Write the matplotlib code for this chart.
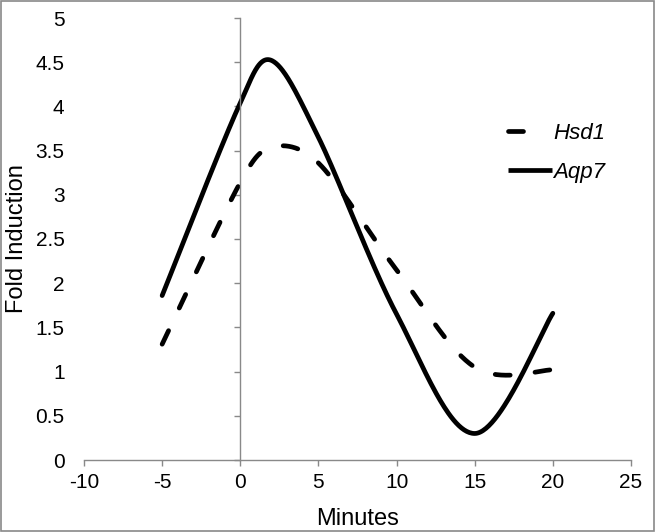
import numpy as np
import matplotlib
matplotlib.use("Agg")
import matplotlib.pyplot as plt
from matplotlib.lines import Line2D
from matplotlib.patches import Rectangle

# data
minutes = [-5, 0, 2, 5, 10, 15, 20]
hsd1 = [1.31, 3.14, 3.54, 3.36, 2.15, 1.05, 1.02]
aqp7 = [1.86, 4.04, 4.52, 3.65, 1.65, 0.30, 1.66]

x_ticks = [-10, -5, 0, 5, 10, 15, 20, 25]
y_ticks = [0, 0.5, 1, 1.5, 2, 2.5, 3, 3.5, 4, 4.5, 5]

AXIS_GREY = '#898989'
plt.rcParams['font.family'] = ['Liberation Sans', 'DejaVu Sans']
plt.rcParams['lines.scale_dashes'] = False


def smooth_line(ax, xs, ys, n=60):
    """Excel style smoothed line (Bezier segments), worked out in screen space."""
    pts = ax.transData.transform(np.column_stack([xs, ys]))
    k = len(pts)
    out = [pts[0]]
    for i in range(k - 1):
        p0 = pts[max(i - 1, 0)]
        p1 = pts[i]
        p2 = pts[i + 1]
        p3 = pts[min(i + 2, k - 1)]
        d12 = np.hypot(*(p2 - p1))
        d02 = np.hypot(*(p2 - p0))
        d13 = np.hypot(*(p3 - p1))
        f0 = 1 / 6 if d02 == 0 else min(1 / 6, d12 / 2 / d02)
        f1 = 1 / 6 if d13 == 0 else min(1 / 6, d12 / 2 / d13)
        c1 = p1 + (p2 - p0) * f0
        c2 = p2 - (p3 - p1) * f1
        t = np.linspace(0, 1, n)[1:, None]
        seg = ((1 - t) ** 3) * p1 + 3 * ((1 - t) ** 2) * t * c1 \
            + 3 * (1 - t) * t ** 2 * c2 + t ** 3 * p2
        out.extend(seg)
    out = ax.transData.inverted().transform(np.array(out))
    return out[:, 0], out[:, 1]


fig = plt.figure(figsize=(6.55, 5.32), dpi=100)
ax = fig.add_axes([84 / 655, 72 / 532, 547 / 655, 442 / 532])
ax.set_xlim(-10, 25)
ax.set_ylim(0, 5)

sx, sy = smooth_line(ax, minutes, hsd1)
ax.plot(sx, sy, color='black', lw=3.4, dashes=(10.8, 18),
        dash_capstyle='round', solid_capstyle='round')
sx, sy = smooth_line(ax, minutes, aqp7)
ax.plot(sx, sy, color='black', lw=3.4, solid_capstyle='round')

# spines: vertical axis crosses at x = 0
for side in ['top', 'right']:
    ax.spines[side].set_visible(False)
ax.spines['left'].set_position(('data', 0))
ax.spines['left'].set_color(AXIS_GREY)
ax.spines['bottom'].set_color(AXIS_GREY)
ax.spines['left'].set_linewidth(1.0)
ax.spines['bottom'].set_linewidth(1.0)

ax.set_xticks(x_ticks)
ax.set_xticklabels([str(v) for v in x_ticks])
ax.set_yticks(y_ticks)
ax.tick_params(axis='x', direction='out', length=4, width=1, color=AXIS_GREY,
               labelsize=15, pad=5)
ax.tick_params(axis='y', direction='out', length=4, width=1, color=AXIS_GREY,
               labelleft=False)

# y tick labels stay at the left edge of the plot area
sec = ax.secondary_yaxis('left')
sec.set_yticks(y_ticks)
sec.set_yticklabels([f'{v:g}' for v in y_ticks])
sec.spines['left'].set_visible(False)
sec.tick_params(length=0, labelsize=15, pad=14)
sec.set_ylabel('Fold Induction', fontsize=17, labelpad=5)

ax.set_xlabel('Minutes', fontsize=17, labelpad=12)

# legend: the dashed key shows a single dash, as in the original
handles = [
    Line2D([], [], color='black', lw=3.4, dashes=(10.8, 40),
           dash_capstyle='round'),
    Line2D([], [], color='black', lw=3.4, solid_capstyle='butt'),
]
ax.legend(handles, ['Hsd1', 'Aqp7'], loc='center left',
          bbox_to_anchor=(0.775, 0.695), frameon=False,
          prop={'style': 'italic', 'size': 16}, handlelength=2.0,
          handletextpad=0.05, borderpad=0, borderaxespad=0, labelspacing=0.8)

# outer chart border
fig.patches.append(Rectangle((0.001, 0.001), 0.997, 0.997, transform=fig.transFigure,
                             fill=False, edgecolor=AXIS_GREY, lw=1.2))

fig.savefig('out.png', dpi=100)
